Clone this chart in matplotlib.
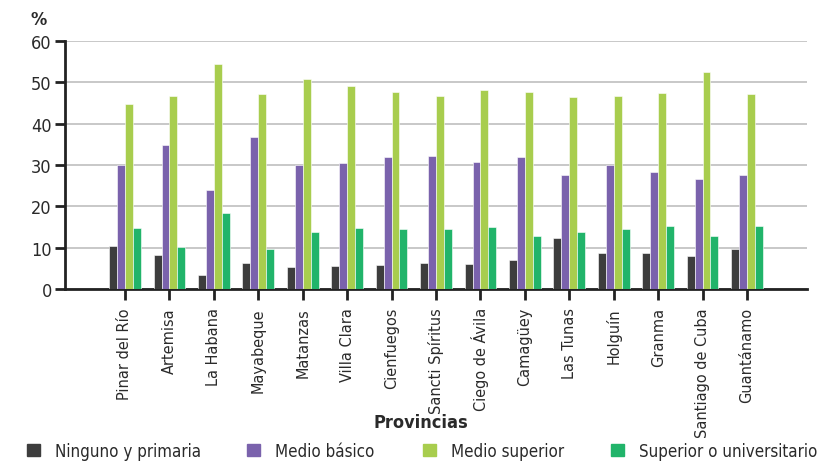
import numpy as np
import matplotlib.pyplot as plt
from matplotlib.patches import Patch

plt.rcParams['font.family'] = ['DejaVu Sans']
plt.rcParams['font.stretch'] = 'condensed'
plt.rcParams['text.color'] = '#2a2a2a'

provincias = ["Pinar del Río", "Artemisa", "La Habana", "Mayabeque", "Matanzas",
              "Villa Clara", "Cienfuegos", "Sancti Spíritus", "Ciego de Ávila",
              "Camagüey", "Las Tunas", "Holguín", "Granma", "Santiago de Cuba",
              "Guantánamo"]
series = ["Ninguno y primaria", "Medio básico", "Medio superior",
          "Superior o universitario"]
ninguno = [10.5, 8.3, 3.4, 6.3, 5.3, 5.6, 5.9, 6.4, 6.1, 7.1, 12.3, 8.6, 8.8, 7.9, 9.7]
basico = [30.0, 34.9, 23.9, 36.7, 30.0, 30.4, 32.0, 32.2, 30.7, 32.0, 27.5, 29.9, 28.4, 26.5, 27.6]
superior = [44.8, 46.6, 54.4, 47.2, 50.8, 49.2, 47.7, 46.6, 48.2, 47.7, 46.4, 46.8, 47.3, 52.4, 47.1]
univ = [14.65, 10.1, 18.3, 9.7, 13.8, 14.7, 14.5, 14.5, 14.9, 12.9, 13.7, 14.5, 15.3, 12.9, 15.3]
colores = ["#3d3d3d", "#7a62ac", "#a8cd4e", "#21b46a"]

fig = plt.figure(figsize=(8.34, 4.64), dpi=100)
ax = fig.add_axes([65/834, 1-290/464, (807-65)/834, (290-42)/464])

x = np.arange(len(provincias))
w = 0.178
for i, (vals, c) in enumerate(zip([ninguno, basico, superior, univ], colores)):
    ax.bar(x + (i-1.5)*w, vals, w, color=c, edgecolor='white', linewidth=0.4, zorder=3)

ax.set_xlim(-1.35, len(provincias)-1+1.35)
ax.set_ylim(0, 60)
ax.set_yticks(range(0, 61, 10))
ax.yaxis.grid(True, color='#c4c4c4', linewidth=1.3, zorder=0)
ax.set_axisbelow(True)
for sp in ['top', 'right']:
    ax.spines[sp].set_visible(False)
for sp in ['left', 'bottom']:
    ax.spines[sp].set_linewidth(2)
    ax.spines[sp].set_color('#222222')
ax.tick_params(axis='y', length=7, width=2, labelsize=13, color='#222222',
               labelcolor='#2a2a2a', pad=2.5)
ax.tick_params(axis='x', length=8, width=2, labelsize=11.6, color='#222222',
               labelcolor='#2a2a2a', pad=5)
ax.set_xticks(x)
ax.set_xticklabels(provincias, rotation=90)
fig.text(421/834, 1-423/464, "Provincias", fontsize=13, fontweight='bold',
         ha='center', va='center')
fig.text(39/834, 1-20/464, "%", fontsize=13, fontweight='bold', ha='center', va='center')

# leyenda: una entrada por posicion
xs_leg = [27, 247, 423, 611]
for s, c, xl in zip(series, colores, xs_leg):
    fig.legend(handles=[Patch(color=c)], labels=[s], loc='center left',
               bbox_to_anchor=(xl/834, 1-452/464), frameon=False, fontsize=12.2,
               handlelength=0.75, handleheight=0.75, handletextpad=0.9,
               borderaxespad=0, borderpad=0)

fig.savefig("out.png", dpi=100)
